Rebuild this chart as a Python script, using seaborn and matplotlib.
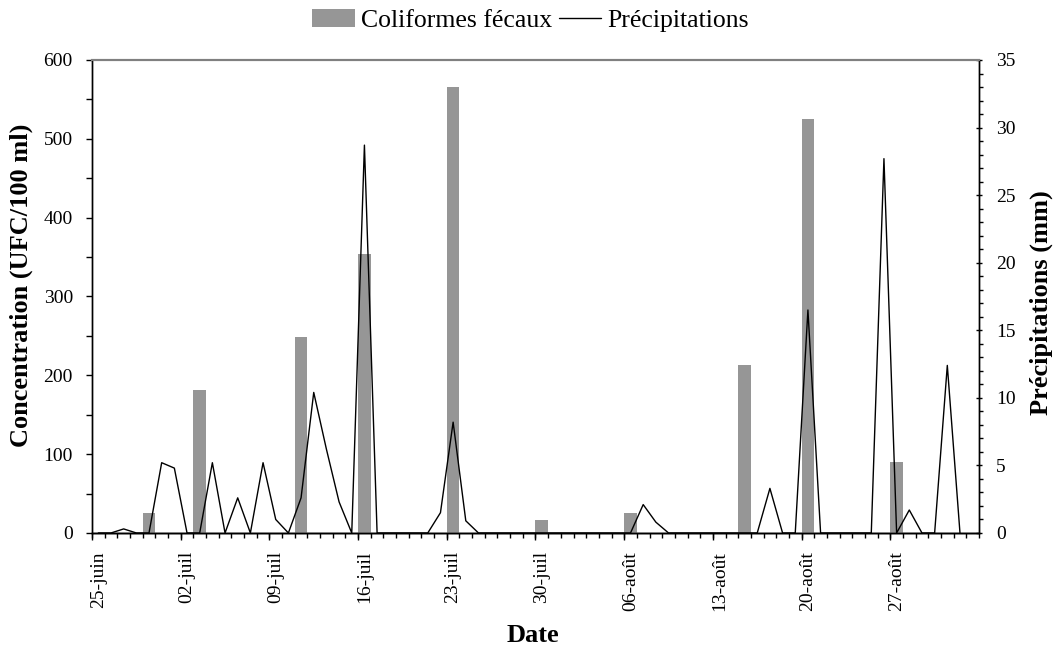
import numpy as np
import pandas as pd
import matplotlib
matplotlib.use("Agg")
import matplotlib.pyplot as plt
import seaborn as sns
from matplotlib.ticker import MultipleLocator, NullLocator

# ---------------- data ----------------
mois = {6: "juin", 7: "juil", 8: "août", 9: "sept"}
days = pd.date_range("2007-06-25", periods=70, freq="D")
day_labels = [f"{d.day:02d}-{mois[d.month]}" for d in days]

week_labels = ["25-juin", "02-juil", "09-juil", "16-juil", "23-juil",
               "30-juil", "06-août", "13-août", "20-août", "27-août"]

conc_dates = ["29-juin", "03-juil", "11-juil", "16-juil", "23-juil",
              "30-juil", "06-août", "15-août", "20-août", "27-août"]
conc_values = [25, 182, 248, 354, 566, 16, 25, 213, 525, 90]

precip_mm = [0, 0, 0.3, 0, 0, 5.2, 4.8, 0, 0, 5.2,
             0, 2.6, 0, 5.2, 1.0, 0, 2.6, 10.4, 6.2, 2.3,
             0, 28.7, 0, 0, 0, 0, 0, 1.5, 8.2, 0.9,
             0, 0, 0, 0, 0, 0, 0, 0, 0, 0,
             0, 0, 0, 2.1, 0.8, 0, 0, 0, 0, 0,
             0, 0, 0, 3.3, 0, 0, 16.5, 0, 0, 0,
             0, 0, 27.7, 0, 1.7, 0, 0, 12.4, 0]

# ---------------- style ----------------
sns.set_theme(style="ticks")
plt.rcParams["font.family"] = ["Liberation Serif", "DejaVu Serif"]
plt.rcParams["axes.edgecolor"] = "black"
plt.rcParams["xtick.color"] = "black"
plt.rcParams["ytick.color"] = "black"
plt.rcParams["text.color"] = "black"
plt.rcParams["axes.labelcolor"] = "black"
plt.rcParams["patch.force_edgecolor"] = False

BAR_GREY = "#969696"

fig = plt.figure(figsize=(10.61, 6.55), dpi=100)
ax = fig.add_axes([0.0867, 0.1863, 0.836, 0.7221])
ax2 = ax.twinx()

df_conc = pd.DataFrame({"date": conc_dates, "conc": conc_values})
sns.barplot(data=df_conc, x="date", y="conc", order=day_labels,
            color=BAR_GREY, saturation=1, width=1.0, errorbar=None,
            ax=ax, label="Coliformes fécaux", zorder=2,
            edgecolor=BAR_GREY, linewidth=0)

df_p = pd.DataFrame({"pos": np.arange(len(precip_mm)), "mm": precip_mm})
sns.lineplot(data=df_p, x="pos", y="mm", ax=ax2, color="black",
             linewidth=1.0, label="Précipitations")

for a in (ax, ax2):
    lg = a.get_legend()
    if lg is not None:
        lg.remove()

n = len(day_labels)
ax.set_xlim(-0.5, n - 0.5)
ax2.set_xlim(-0.5, n - 0.5)
ax.set_ylim(0, 600)
ax2.set_ylim(0, 35)

# x ticks: labels at category centres, short ticks at day boundaries,
# longer ticks at week boundaries
week_pos = [day_labels.index(l) for l in week_labels]
ax.set_xticks(week_pos, week_labels, rotation=90)
ax.set_xticks(np.arange(n + 1) - 0.5, minor=True)
ax.tick_params(axis="x", which="major", length=0, pad=13, labelsize=14)
ax.tick_params(axis="x", which="minor", length=3.6, width=1.0,
               direction="out")
for t in ax.get_xticklabels():
    t.set_va("top")
    t.set_ha("center")

sec = ax.secondary_xaxis("bottom")
sec.set_xticks(np.array(week_pos) - 0.5)
sec.xaxis.set_minor_locator(NullLocator())
sec.tick_params(axis="x", which="major", length=5.3, width=1.0,
                direction="out", labelbottom=False)
sec.spines["bottom"].set_linewidth(1.0)
sec.spines["bottom"].set_color("black")

# left y axis
ax.yaxis.set_major_locator(MultipleLocator(100))
ax.yaxis.set_minor_locator(MultipleLocator(50))
ax.tick_params(axis="y", which="both", direction="out", length=4.3,
               width=1.0, pad=9.5, labelsize=14)

# right y axis
ax2.yaxis.set_major_locator(MultipleLocator(5))
ax2.yaxis.set_minor_locator(MultipleLocator(1))
ax2.tick_params(axis="y", which="major", direction="inout", length=5.0,
                width=1.0, pad=10, labelsize=14)
ax2.tick_params(axis="y", which="minor", direction="out", length=2.9,
                width=1.0)

# spines
for a in (ax, ax2):
    for s in ("left", "right", "bottom"):
        a.spines[s].set_color("black")
        a.spines[s].set_linewidth(1.0)
    a.spines["top"].set_color("#808080")
    a.spines["top"].set_linewidth(1.5)
    a.spines["top"].set_visible(True)
    a.spines["right"].set_visible(True)

# labels
ax.set_xlabel("Date", fontsize=19, fontweight="bold")
ax.xaxis.set_label_coords(0.497, -0.192)
ax.set_ylabel("Concentration (UFC/100 ml)", fontsize=19, fontweight="bold")
ax.yaxis.set_label_coords(-0.0665, 0.524)
ax2.set_ylabel("Précipitations (mm)", fontsize=19, fontweight="bold")
ax2.yaxis.set_label_coords(1.0575, 0.487)

# legend
h1, l1 = ax.get_legend_handles_labels()
h2, l2 = ax2.get_legend_handles_labels()
fig.legend(h1 + h2, l1 + l2, loc="center", bbox_to_anchor=(0.5, 0.968),
           ncol=2, frameon=False, fontsize=18.5, handlelength=1.65,
           handleheight=0.7, handletextpad=0.23, columnspacing=0.27,
           borderaxespad=0)

fig.savefig("out.png", dpi=100)
